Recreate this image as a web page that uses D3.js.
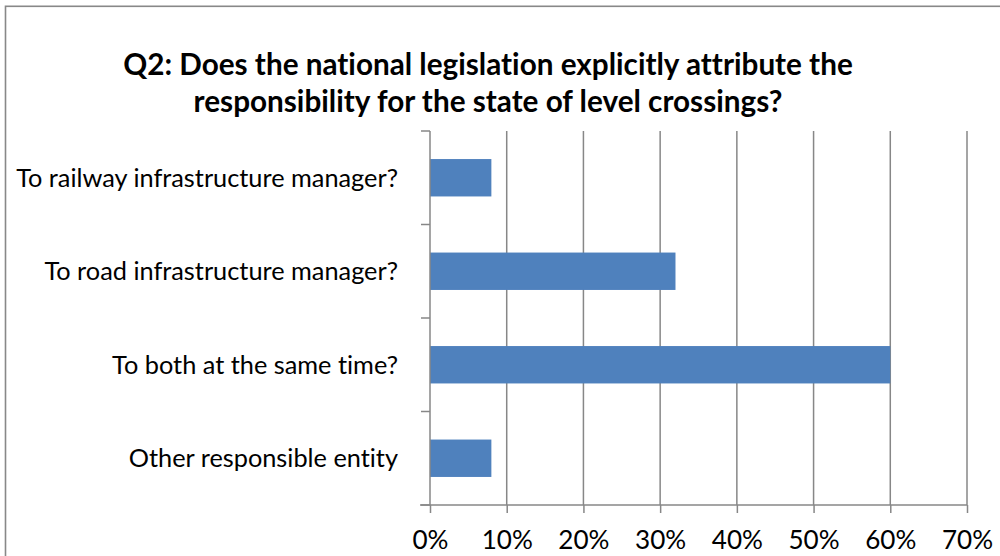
<!DOCTYPE html>
<html>
<head>
<meta charset="utf-8">
<script src="https://cdn.jsdelivr.net/npm/d3@7"></script>
<style>
  html, body { margin: 0; padding: 0; background: #fff; }
  svg { display: block; }
  text { font-family: Lato, "Open Sans", sans-serif; fill: #000; font-variant-ligatures: none; font-feature-settings: "liga" 0, "clig" 0; }
</style>
</head>
<body>
<svg id="chart" width="1000" height="556"></svg>
<script>
const titleLines = [
  "Q2: Does the national legislation explicitly attribute the",
  "responsibility for the state of level crossings?"
];
const categories = [
  "To railway infrastructure manager?",
  "To road infrastructure manager?",
  "To both at the same time?",
  "Other responsible entity"
];
const values = [8, 32, 60, 8];
const tickValues = [0, 10, 20, 30, 40, 50, 60, 70];
const tickLabels = ["0%", "10%", "20%", "30%", "40%", "50%", "60%", "70%"];

const svg = d3.select("#chart");
const plot = { left: 430, right: 967, top: 131, bottom: 505 };
const gridColor = "#878787";

// outer chart border (right/bottom edges fall outside the frame)
svg.append("rect")
  .attr("x", 5.5).attr("y", 6.3)
  .attr("width", 1100).attr("height", 700)
  .attr("fill", "none").attr("stroke", "#888").attr("stroke-width", 1.6);

const x = d3.scaleLinear().domain([0, 70]).range([plot.left, plot.right]);
const y = d3.scaleBand().domain(categories).range([plot.top, plot.bottom])
  .paddingInner(0.6).paddingOuter(0.3);

// vertical gridlines
svg.append("g").selectAll("line").data(tickValues.slice(1)).join("line")
  .attr("x1", d => x(d)).attr("x2", d => x(d))
  .attr("y1", plot.top).attr("y2", plot.bottom)
  .attr("stroke", gridColor).attr("stroke-width", 1.5);

// bars
svg.append("g").selectAll("rect").data(values).join("rect")
  .attr("x", x(0))
  .attr("y", (d, i) => y(categories[i]))
  .attr("width", d => x(d) - x(0))
  .attr("height", y.bandwidth())
  .attr("fill", "#4f81bd");

// x axis
const xAxis = d3.axisBottom(x).tickValues(tickValues)
  .tickFormat((d, i) => tickLabels[i]).tickSize(8).tickPadding(17);
const gx = svg.append("g").attr("transform", `translate(0,${plot.bottom})`).call(xAxis);
gx.select(".domain").attr("stroke", gridColor).attr("stroke-width", 1.5)
  .attr("d", `M${plot.left - 10},0H${plot.right}`);
gx.selectAll(".tick line").attr("stroke", gridColor).attr("stroke-width", 1.5);
gx.selectAll(".tick text").attr("font-family", "Lato, sans-serif").attr("fill", "#000");

// y axis: line + ticks at band boundaries
const boundaries = d3.range(categories.length + 1).map(i => plot.top + i * (plot.bottom - plot.top) / categories.length);
svg.append("line")
  .attr("x1", plot.left).attr("x2", plot.left)
  .attr("y1", plot.top).attr("y2", plot.bottom)
  .attr("stroke", gridColor).attr("stroke-width", 1.5);
svg.append("g").selectAll("line").data(boundaries).join("line")
  .attr("x1", plot.left - 9).attr("x2", plot.left)
  .attr("y1", d => d).attr("y2", d => d)
  .attr("stroke", gridColor).attr("stroke-width", 1.5);

// category labels
const labels = svg.append("g").selectAll("text").data(categories).join("text")
  .attr("x", 398)
  .attr("y", d => y(d) + y.bandwidth() / 2)
  .attr("dy", "0.35em")
  .attr("text-anchor", "end")
  .attr("font-size", 22)
  .text(d => d);
const maxW = d3.max(labels.nodes(), n => n.getComputedTextLength());
const labelSize = 22 * 382 / maxW;
labels.attr("font-size", labelSize);
gx.selectAll(".tick text").attr("font-size", labelSize * 1.03);

// title
const title = svg.append("g").selectAll("text").data(titleLines).join("text")
  .attr("x", 488)
  .attr("y", (d, i) => 75 + i * 37)
  .attr("text-anchor", "middle")
  .attr("font-weight", "bold")
  .attr("font-size", 27)
  .text(d => d);
const tW = title.nodes()[0].getComputedTextLength();
title.attr("font-size", 27 * 730 / tW);
</script>
</body>
</html>
